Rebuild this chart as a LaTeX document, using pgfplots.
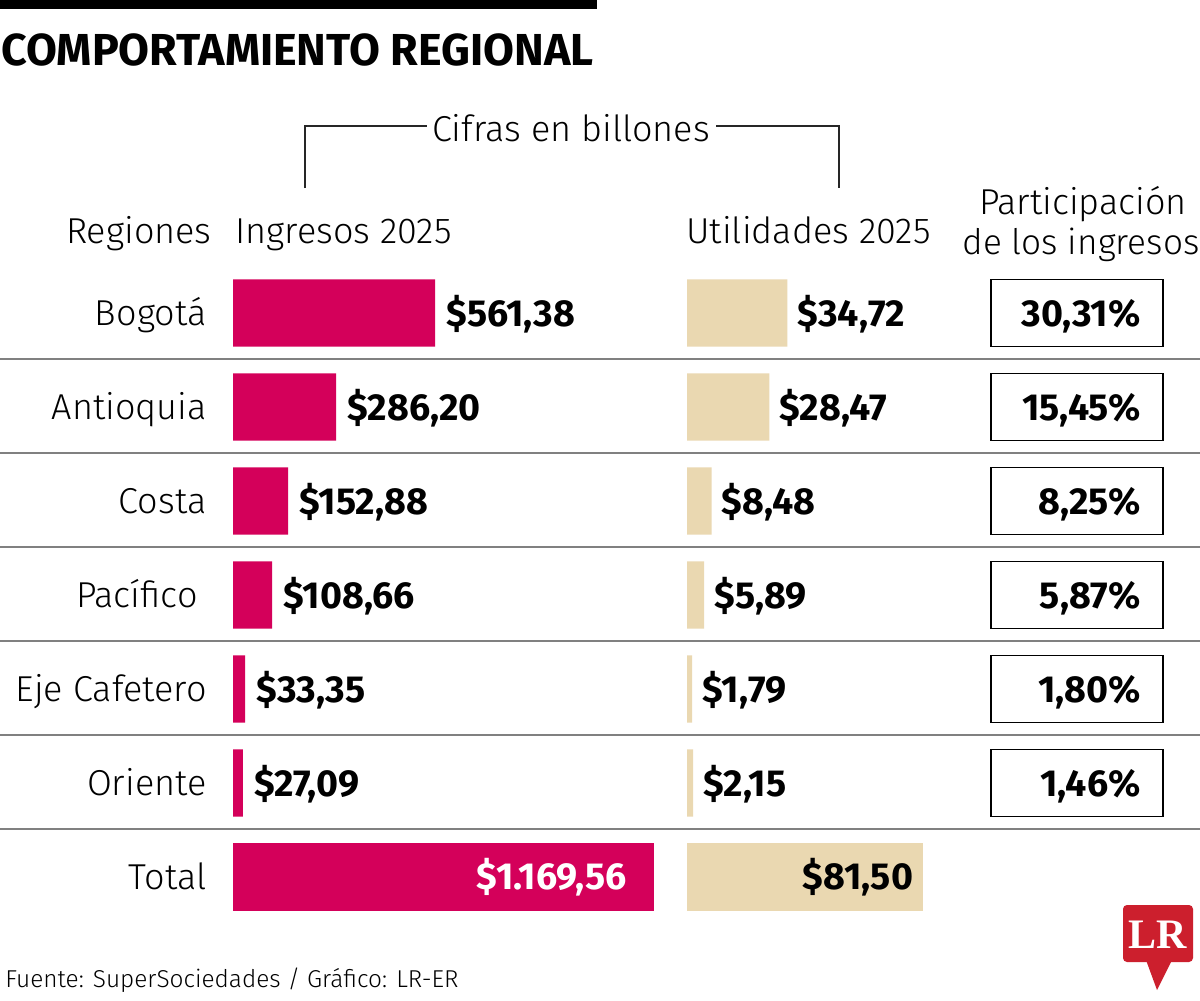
\documentclass[border=0pt]{standalone}
\usepackage{pgfplots}
\pgfplotsset{compat=1.18}
\usepackage{pgfplotstable}
\usepackage{fontspec}
\setmainfont{Fira Sans}[UprightFont={* Light},BoldFont={* Bold}]
\newfontfamily\logofont{Liberation Serif}
\definecolor{mag}{HTML}{D4005A}
\definecolor{beige}{HTML}{EAD8B1}
\definecolor{sep}{HTML}{808080}
\definecolor{lrred}{HTML}{CC1F2D}

\pgfplotstableread{
i v l
0 561.38 {\$561,38}
1 286.20 {\$286,20}
2 152.88 {\$152,88}
3 108.66 {\$108,66}
4 33.35 {\$33,35}
5 27.09 {\$27,09}
}\ingresos
\pgfplotstableread{
i v l
6 1169.56 {\$1.169,56}
}\ingresostotal
\pgfplotstableread{
i v l
0 34.72 {\$34,72}
1 28.47 {\$28,47}
2 8.48 {\$8,48}
3 5.89 {\$5,89}
4 1.79 {\$1,79}
5 2.15 {\$2,15}
}\utilidades
\pgfplotstableread{
i v l
6 81.50 {\$81,50}
}\utilidadestotal

\newcommand{\hfont}{\fontsize{18pt}{20pt}\selectfont}
\newcommand{\vfont}{\bfseries\fontsize{18.8pt}{20pt}\selectfont}

\pgfplotsset{
  rowaxis/.style={
    anchor=north west, scale only axis, height=329pt,
    ymin=-0.5, ymax=6.5, y dir=reverse, hide axis, clip=false,
  },
  rowbar/.style={xbar, bar shift=0pt, bar width=0.713, draw=none,
    point meta=explicit symbolic, nodes near coords,
    nodes near coords align=horizontal},
}

\begin{document}
\begin{tikzpicture}[x=0.5pt,y=-0.5pt]
\useasboundingbox (0,0) rectangle (1200,1001);
\fill[white] (0,0) rectangle (1200,1001);

% header
\fill[black] (0,0) rectangle (597,9);
\node[anchor=base west, inner sep=0pt, font=\bfseries\fontsize{22.4pt}{24pt}\selectfont] at (1,65) {COMPORTAMIENTO REGIONAL};
\node[anchor=base, inner sep=0pt, font=\hfont] at (571,141) {Cifras en billones};
\draw[line width=0.8pt, black!85] (305,188) -- (305,126) -- (427,126);
\draw[line width=0.8pt, black!85] (716,126) -- (839,126) -- (839,188);
\node[anchor=base east, inner sep=0pt, font=\hfont] at (212,243) {Regiones};
\node[anchor=base west, inner sep=0pt, font=\hfont] at (235,243) {Ingresos 2025};
\node[anchor=base west, inner sep=0pt, font=\hfont] at (686,243) {Utilidades 2025};
\node[anchor=base, inner sep=0pt, font=\hfont] at (1083,214) {Participación};
\node[anchor=base, inner sep=0pt, font=\fontsize{17.6pt}{20pt}\selectfont] at (1081,254) {de los ingresos};

% separators
\foreach \yy in {359,453,547,641,735,829}
  \draw[sep, line width=1.3pt] (0,\yy) -- (1200,\yy);

% row labels
\foreach \lab/\xx [count=\k from 0] in {Bogotá/207,Antioquia/207,Costa/207,Pacífico/198,Eje Cafetero/207,Oriente/207,Total/207}
  \node[anchor=base east, inner sep=0pt, font=\hfont] at (\xx,{313+94*\k+12}) {\lab};

% participation boxes
\foreach \pp [count=\k from 0] in {{30,31\%},{15,45\%},{8,25\%},{5,87\%},{1,80\%},{1,46\%}}{
  \draw[black, line width=0.6pt] (991,{313+94*\k-33.5}) rectangle (1163,{313+94*\k+33.5});
  \node[anchor=base east, inner sep=0pt, font=\vfont] at (1141,{313+94*\k+13}) {\pp};
}

% Ingresos
\begin{axis}[rowaxis, at={(116.5pt,-133pt)}, width=216pt, xmin=0, xmax=1200]
\addplot[rowbar, fill=mag,
  nodes near coords style={font=\vfont, text=black, inner sep=0pt, anchor=base west, xshift=5.5pt, yshift=-6.5pt}]
  table[x=v, y=i, meta=l] {\ingresos};
\addplot[rowbar, fill=mag,
  nodes near coords style={font=\vfont, text=white, inner sep=0pt, anchor=base east, xshift=-13.5pt, yshift=-6.5pt}]
  table[x=v, y=i, meta=l] {\ingresostotal};
\end{axis}

% Utilidades
\begin{axis}[rowaxis, at={(343.5pt,-133pt)}, width=144.5pt, xmin=0, xmax=100]
\addplot[rowbar, fill=beige,
  nodes near coords style={font=\vfont, text=black, inner sep=0pt, anchor=base west, xshift=5pt, yshift=-6.5pt}]
  table[x=v, y=i, meta=l] {\utilidades};
\addplot[rowbar, fill=beige,
  nodes near coords style={font=\vfont, text=black, inner sep=0pt, anchor=base east, xshift=-4.5pt, yshift=-6.5pt}]
  table[x=v, y=i, meta=l] {\utilidadestotal};
\end{axis}

% footer
\node[anchor=base west, inner sep=0pt, font=\fontsize{12.2pt}{14pt}\selectfont] at (5,987) {Fuente: SuperSociedades / Gráfico: LR-ER};

% logo
\fill[lrred, rounded corners=2pt] (1123,905) rectangle (1193,962);
\fill[lrred] (1146,960) -- (1172,960) -- (1157,990) -- cycle;
\node[text=white, inner sep=0pt, font=\logofont\bfseries\fontsize{21pt}{22pt}\selectfont] at (1158,935) {LR};
\end{tikzpicture}
\end{document}
